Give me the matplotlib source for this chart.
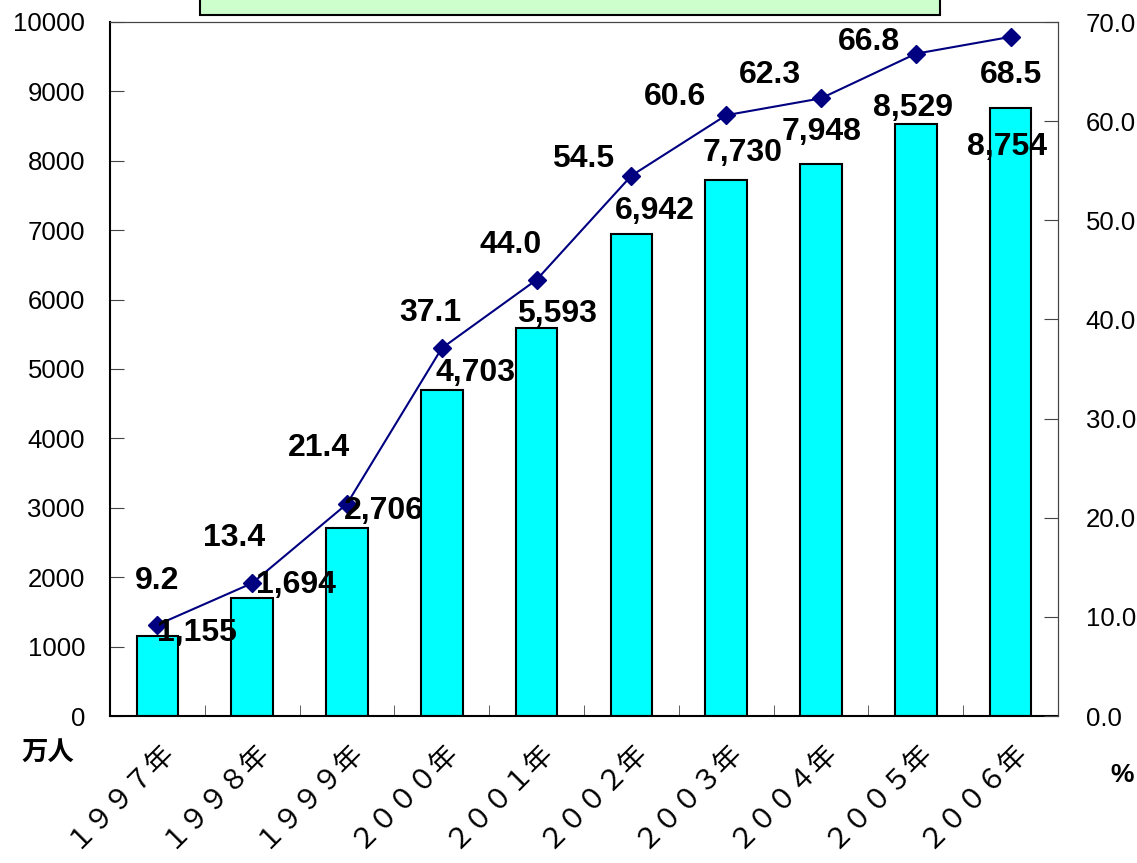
import matplotlib
matplotlib.use("Agg")
import matplotlib.pyplot as plt
import matplotlib.patches as patches
from matplotlib.ticker import FixedLocator, FormatStrFormatter
import numpy as np

# data
years = ["１９９７年", "１９９８年", "１９９９年", "２０００年", "２００１年",
         "２００２年", "２００３年", "２００４年", "２００５年", "２００６年"]
users = [1155, 1694, 2706, 4703, 5593, 6942, 7730, 7948, 8529, 8754]   # 万人
rate = [9.2, 13.4, 21.4, 37.1, 44.0, 54.5, 60.6, 62.3, 66.8, 68.5]       # %

# hand-placed label offsets (pixels, x right / y down) as in the original
bar_lab_off = [(40, -3), (44, -13), (37, -17), (34, -17), (20, -14),
               (23, -23), (16, -27), (1, -32), (-3, -16), (-4, 39)]
line_lab_off = [(0, -44), (-18, -45), (-28, -56), (-11, -35), (-26, -35),
                (-48, -17), (-51, -18), (-51, -23), (-47, -12), (0, 38)]

narrow = ["Liberation Sans Narrow", "Liberation Sans", "DejaVu Sans"]
cjk = ["Noto Sans CJK JP", "DejaVu Sans"]

fig = plt.figure(figsize=(11.37, 8.63), dpi=100)
ax = fig.add_axes([110 / 1137, 1 - 716 / 863, 948 / 1137, 694 / 863])
ax2 = ax.twinx()

x = np.arange(len(years))
ax.bar(x, users, width=0.44, color="#00FFFF", edgecolor="black", linewidth=1.5, zorder=2)
ax.set_xlim(-0.5, len(years) - 0.5)
ax.set_ylim(0, 10000)
ax.yaxis.set_major_locator(FixedLocator(np.arange(0, 10001, 1000)))
ax.set_xticks(x)
ax.set_xticks(np.arange(0.5, len(years) - 0.5, 1), minor=True)
ax.tick_params(axis="x", which="major", length=0, pad=14)
ax.tick_params(axis="x", which="minor", direction="in", length=8, color="#444444")
ax.tick_params(axis="y", direction="in", length=10, color="#444444", pad=18)
ax.set_xticklabels(years, rotation=45, ha="right", va="top", fontsize=20,
                   family=cjk, rotation_mode="anchor")
for lab in ax.get_yticklabels():
    lab.set_family(narrow)
    lab.set_fontsize(18.5)

ax2.set_ylim(0, 70)
ax2.yaxis.set_major_locator(FixedLocator(np.arange(0, 71, 10)))
ax2.yaxis.set_major_formatter(FormatStrFormatter("%.1f"))
ax2.tick_params(axis="y", direction="in", length=10, color="#444444", pad=20)
for lab in ax2.get_yticklabels():
    lab.set_family(narrow)
    lab.set_fontsize(18.5)
ax2.plot(x, rate, color="#000080", linewidth=1.5, marker="D", markersize=9,
         markerfacecolor="#000080", markeredgecolor="#000080", zorder=3)

for s in ["top", "right"]:
    ax.spines[s].set_color("#444444")
    ax2.spines[s].set_color("#444444")
for s in ["left", "bottom"]:
    ax2.spines[s].set_visible(False)
    ax.spines[s].set_linewidth(1.5)

ax.set_zorder(1)
ax2.set_zorder(2)
ax2.patch.set_visible(False)

# data labels
for i, v in enumerate(users):
    dx, dy = bar_lab_off[i]
    ax2.annotate(f"{v:,}", xy=(x[i], v * 70 / 10000), xytext=(dx, -dy),
                 textcoords="offset pixels", ha="center", va="center",
                 fontsize=23, fontweight="bold", family=narrow, zorder=5)
for i, v in enumerate(rate):
    dx, dy = line_lab_off[i]
    ax2.annotate(f"{v:.1f}", xy=(x[i], v), xytext=(dx, -dy),
                 textcoords="offset pixels", ha="center", va="center",
                 fontsize=23, fontweight="bold", family=narrow, zorder=5)

# unit labels
fig.text(48 / 1137, 1 - 752 / 863, "万人", ha="center", va="center",
         fontsize=19, fontweight="bold", family=cjk)
fig.text(1122 / 1137, 1 - 775 / 863, "%", ha="center", va="center",
         fontsize=19, fontweight="bold", family=narrow)

# title box (cut off at top in the original)
fig.patches.append(patches.Rectangle((200 / 1137, 1 - 15 / 863), 740 / 1137, 30 / 863,
                                     transform=fig.transFigure, facecolor="#CCFFCC",
                                     edgecolor="black", linewidth=1.5, zorder=5))

fig.savefig("out.png", dpi=100)
